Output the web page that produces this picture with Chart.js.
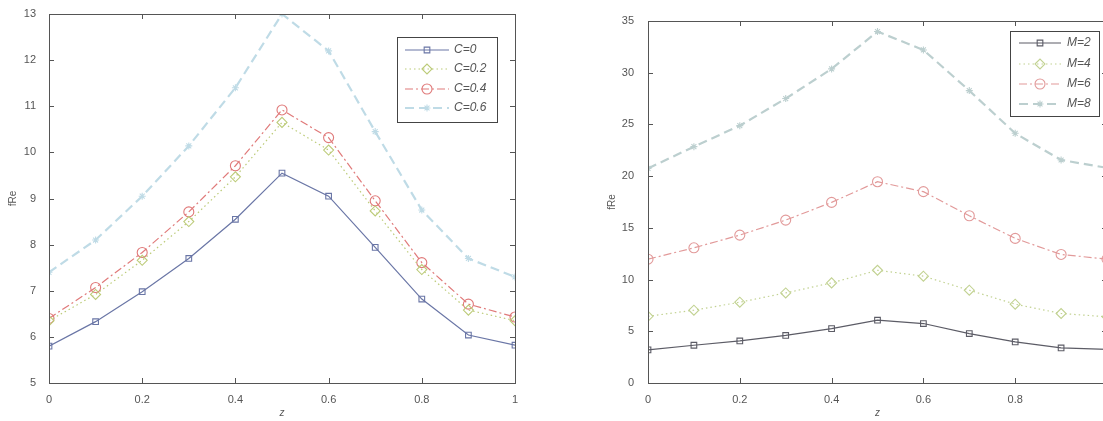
<!DOCTYPE html>
<html lang="en">
<head>
    <meta charset="UTF-8">
    <title>fRe vs z</title>
    <script src="https://cdn.jsdelivr.net/npm/chart.js"></script>
    <style>
        html, body { margin: 0; padding: 0; background: #fff; }
        #wrap { position: relative; width: 1103px; height: 421px; overflow: hidden; }
        #left { position: absolute; left: 0; top: 0; }
        #right { position: absolute; left: 560px; top: 0; }
    </style>
</head>
<body>
<div id="wrap">
    <canvas id="left" width="540" height="421"></canvas>
    <canvas id="right" width="560" height="421"></canvas>
</div>

<script>
    // values
    const zValues = [0, 0.1, 0.2, 0.3, 0.4, 0.5, 0.6, 0.7, 0.8, 0.9, 1];

    const leftLabels = ['C=0', 'C=0.2', 'C=0.4', 'C=0.6'];
    const fReC0 = [5.8, 6.33, 6.98, 7.7, 8.55, 9.55, 9.05, 7.94, 6.82, 6.04, 5.82];
    const fReC02 = [6.35, 6.92, 7.66, 8.5, 9.47, 10.65, 10.05, 8.73, 7.46, 6.58, 6.35];
    const fReC04 = [6.4, 7.07, 7.83, 8.71, 9.71, 10.92, 10.32, 8.95, 7.61, 6.71, 6.43];
    const fReC06 = [7.4, 8.1, 9.05, 10.14, 11.4, 13.0, 12.2, 10.45, 8.75, 7.7, 7.3];

    const rightLabels = ['M=2', 'M=4', 'M=6', 'M=8'];
    const fReM2 = [3.2, 3.65, 4.07, 4.6, 5.26, 6.07, 5.75, 4.78, 3.97, 3.39, 3.26];
    const fReM4 = [6.45, 7.04, 7.81, 8.71, 9.68, 10.9, 10.33, 8.97, 7.62, 6.72, 6.4];
    const fReM6 = [11.97, 13.07, 14.3, 15.75, 17.46, 19.46, 18.5, 16.17, 13.98, 12.43, 11.97];
    const fReM8 = [20.75, 22.85, 24.88, 27.5, 30.37, 33.98, 32.2, 28.27, 24.14, 21.56, 20.8];

    const axisColor = '#555';
    const textColor = '#555';
    const fontFamily = "'Liberation Sans', Arial, sans-serif";

    function points(values) {
        return values.map((v, i) => ({ x: zValues[i], y: v }));
    }

    // dataset styles: solid squares, dotted diamonds, dash-dot circles, dashed stars
    function makeSets(labels, series, colors) {
        const styles = [
            { pointStyle: 'rect', radius: 4, dash: [], width: 1.2 },
            { pointStyle: 'rectRot', radius: 5, dash: [1.5, 3], width: 1.2 },
            { pointStyle: 'circle', radius: 5, dash: [8, 3, 2, 3], width: 1.2 },
            { pointStyle: 'star', radius: 3.5, dash: [9, 5], width: 2.2 }
        ];
        return series.map((s, i) => ({
            label: labels[i],
            data: points(s),
            borderColor: colors[i],
            borderWidth: styles[i].width,
            borderDash: styles[i].dash,
            pointStyle: styles[i].pointStyle,
            pointRadius: styles[i].radius,
            pointBorderColor: colors[i],
            pointBackgroundColor: 'rgba(0,0,0,0)',
            pointBorderWidth: 1.1,
            tension: 0
        }));
    }

    // matlab style box with inward ticks + legend box
    const boxPlugin = {
        id: 'boxPlugin',
        afterDraw(chart, args, opts) {
            const ctx = chart.ctx;
            const a = chart.chartArea;
            const xs = chart.scales.x, ys = chart.scales.y;
            ctx.save();
            ctx.strokeStyle = axisColor;
            ctx.lineWidth = 1;
            ctx.setLineDash([]);
            ctx.strokeRect(a.left + 0.5, a.top + 0.5, a.right - a.left, a.bottom - a.top);
            ctx.beginPath();
            xs.ticks.forEach(t => {
                const px = Math.round(xs.getPixelForValue(t.value)) + 0.5;
                ctx.moveTo(px, a.bottom); ctx.lineTo(px, a.bottom - 5);
                ctx.moveTo(px, a.top); ctx.lineTo(px, a.top + 5);
            });
            ys.ticks.forEach(t => {
                const py = Math.round(ys.getPixelForValue(t.value)) + 0.5;
                ctx.moveTo(a.left, py); ctx.lineTo(a.left + 5, py);
                ctx.moveTo(a.right, py); ctx.lineTo(a.right - 5, py);
            });
            ctx.stroke();

            // legend
            const L = opts.legend;
            ctx.fillStyle = '#fff';
            ctx.fillRect(L.x, L.y, L.w, L.h);
            ctx.strokeStyle = '#444';
            ctx.strokeRect(L.x + 0.5, L.y + 0.5, L.w, L.h);
            ctx.font = 'italic 12px ' + fontFamily;
            ctx.textBaseline = 'middle';
            chart.data.datasets.forEach((ds, i) => {
                const y = L.rows[i];
                ctx.strokeStyle = ds.borderColor;
                ctx.lineWidth = ds.borderWidth;
                ctx.setLineDash(ds.borderDash);
                ctx.beginPath();
                ctx.moveTo(L.lineX0, y); ctx.lineTo(L.lineX1, y);
                ctx.stroke();
                ctx.setLineDash([]);
                ctx.lineWidth = 1.1;
                ctx.fillStyle = 'rgba(0,0,0,0)';
                Chart.helpers.drawPoint(ctx, {
                    pointStyle: ds.pointStyle, radius: ds.pointRadius, rotation: 0, borderWidth: 1.1
                }, (L.lineX0 + L.lineX1) / 2, y);
                ctx.fillStyle = textColor;
                ctx.fillText(ds.label, L.textX, y);
            });
            ctx.restore();
        }
    };

    function makeChart(id, sets, yMin, yMax, yStep, cfg) {
        return new Chart(document.getElementById(id), {
            type: 'line',
            data: { datasets: sets },
            options: {
                responsive: false,
                animation: false,
                layout: { padding: cfg.padding },
                plugins: {
                    legend: { display: false },
                    tooltip: { enabled: false },
                    boxPlugin: { legend: cfg.legend }
                },
                scales: {
                    x: {
                        type: 'linear', min: 0, max: 1,
                        grid: { display: false }, border: { display: false },
                        ticks: {
                            stepSize: 0.2, padding: 2, color: textColor,
                            font: { family: fontFamily, size: 11 },
                            callback: v => String(Number(v.toFixed(1)))
                        },
                        title: { display: true, text: 'z', color: textColor, padding: { top: 0, bottom: 2 },
                                 font: { family: fontFamily, size: 10, style: 'italic' } },
                        afterFit: s => { s.height = 38; }
                    },
                    y: {
                        min: yMin, max: yMax,
                        grid: { display: false }, border: { display: false },
                        ticks: { stepSize: yStep, padding: cfg.yTickPad, color: textColor, font: { family: fontFamily, size: 11 } },
                        title: { display: true, text: 'fRe', color: textColor, padding: { top: cfg.yTitlePad, bottom: 0 },
                                 font: { family: fontFamily, size: 10 } },
                        afterFit: s => { s.width = cfg.yWidth; }
                    }
                }
            },
            plugins: [boxPlugin]
        });
    }

    makeChart('left',
        makeSets(leftLabels, [fReC0, fReC02, fReC04, fReC06], ['#6a76a6', '#bccb78', '#e07a7a', '#bfdbe6']),
        5, 13, 1, {
            padding: { top: 14, right: 25, left: 0, bottom: 0 },
            yWidth: 49, yTickPad: 5, yTitlePad: 7,
            legend: { x: 397, y: 37, w: 100, h: 85, rows: [50, 69, 89, 108], lineX0: 405, lineX1: 449, textX: 454 }
        });

    makeChart('right',
        makeSets(rightLabels, [fReM2, fReM4, fReM6, fReM8], ['#5c5c66', '#c2d292', '#e29a9a', '#bccfcf']),
        0, 35, 5, {
            padding: { top: 21, right: 13, left: 0, bottom: 0 },
            yWidth: 88, yTickPad: 6, yTitlePad: 46,
            legend: { x: 450, y: 31, w: 89, h: 85, rows: [43, 64, 84, 104], lineX0: 459, lineX1: 501, textX: 507 }
        });
</script>
</body>
</html>
